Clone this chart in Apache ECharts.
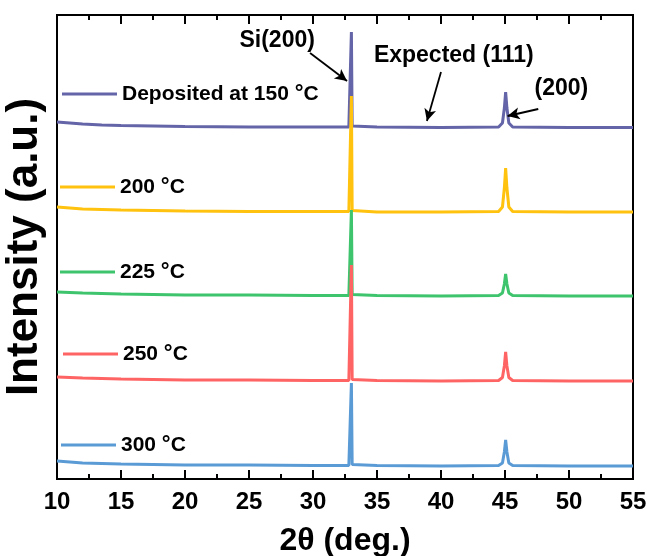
<!DOCTYPE html>
<html>
<head>
<meta charset="utf-8">
<script src="https://cdn.jsdelivr.net/npm/echarts@6/dist/echarts.min.js"></script>
<style>
  html, body { margin: 0; padding: 0; background: #fff; }
  #xrd { width: 648px; height: 556px; }
</style>
</head>
<body>
<div id="xrd"></div>
<script>
  // 2theta positions (deg.)
  var twoTheta = [10, 11, 12, 13.5, 15, 17.5, 20, 25, 30, 32.8, 32.94, 33.0, 33.06, 33.2, 35, 40, 44.5, 44.8, 44.95, 45.05, 45.15, 45.3, 45.6, 50, 55];

  // stacked intensities (a.u., offset included)
  var dep150 = [357, 356, 355, 354, 353.5, 353, 352.5, 352, 352, 352, 353, 447, 353, 352, 352, 351.5, 352, 356, 371, 387, 371, 356, 352, 351.5, 351.5];
  var ann200 = [272, 271, 270, 269.5, 269, 268.5, 268, 267.5, 267.5, 267.5, 268.5, 383, 268.5, 267.5, 267, 267, 267.5, 272, 291, 311, 291, 272, 267.5, 267, 267];
  var ann225 = [187, 186.5, 186, 185.5, 185, 184.5, 184, 184, 183.5, 183.5, 184.5, 269, 184.5, 183.5, 183.5, 183, 183.5, 186, 195, 205, 195, 186, 183.5, 183, 183];
  var ann250 = [102, 101.5, 101, 100.5, 100, 99.5, 99, 99, 98.5, 98.5, 99.5, 214, 99.5, 98.5, 98.5, 98, 98.5, 101.5, 113, 127, 113, 101.5, 98.5, 98, 98];
  var ann300 = [18, 17, 16, 15.5, 15, 14.5, 14, 14, 13.5, 13.5, 14.5, 96, 14.5, 13.5, 13.5, 13, 13.5, 16, 27, 39, 27, 16, 13.5, 13, 13];

  var seriesNames = ['Deposited at 150 °C', '200 °C', '225 °C', '250 °C', '300 °C'];
  var seriesColors = ['#6464a8', '#ffc20e', '#3ec46d', '#ff6464', '#5b9bd5'];
  var seriesData = [dep150, ann200, ann225, ann250, ann300];

  // annotations [text, x, y]
  var notes = [['Si(200)', 27.2, 438], ['Expected (111)', 41.0, 423], ['(200)', 49.4, 390]];
  // arrows [x0, y0, x1, y1]
  var arrows = [[29.77, 426, 32.66, 398], [40.0, 407, 38.9, 358], [47.6, 370, 45.2, 363]];

  var FONT = '"Liberation Sans", Arial, sans-serif';
  var chart = echarts.init(document.getElementById('xrd'));

  function pairs(ys) {
    var out = [];
    for (var i = 0; i < twoTheta.length; i++) out.push([twoTheta[i], ys[i]]);
    return out;
  }

  // legend items are placed next to their curves
  var legendPos = [[62, 96], [60, 189], [60, 274], [63, 356], [61, 447]];
  var legends = seriesNames.map(function (name, i) {
    return {
      data: [name],
      left: legendPos[i][0],
      top: legendPos[i][1] - 13,
      padding: 0,
      icon: 'rect',
      itemWidth: 55,
      itemHeight: 3,
      selectedMode: false,
      formatter: function (n) { return n.replace('°', '{deg|°}'); },
      textStyle: {
        fontFamily: FONT, fontWeight: 'bold', fontSize: 21, color: '#000',
        rich: { deg: { fontFamily: FONT, fontWeight: 'bold', fontSize: 22, color: '#000' } }
      }
    };
  });

  var series = seriesData.map(function (ys, i) {
    return {
      name: seriesNames[i],
      type: 'line',
      data: pairs(ys),
      showSymbol: false,
      symbol: 'none',
      animation: false,
      lineStyle: { width: 3, color: seriesColors[i] },
      itemStyle: { color: seriesColors[i] }
    };
  });

  series[0].markLine = {
    silent: true,
    symbol: ['none', 'arrow'],
    symbolSize: [9, 12],
    lineStyle: { color: '#000', width: 1.8, type: 'solid' },
    label: { show: false },
    data: arrows.map(function (a) {
      return [{ coord: [a[0], a[1]] }, { coord: [a[2], a[3]] }];
    })
  };
  series[0].markPoint = {
    silent: true,
    symbol: 'circle',
    symbolSize: 0,
    label: {
      show: true, position: 'inside', color: '#000',
      fontFamily: FONT, fontWeight: 'bold', fontSize: 23,
      formatter: function (p) { return p.name; }
    },
    data: notes.map(function (n) { return { name: n[0], coord: [n[1], n[2]] }; })
  };

  function xAxisCfg(pos, withLabels) {
    return {
      type: 'value', min: 10, max: 55, interval: 5, position: pos,
      z: 10,
      axisLine: { show: true, onZero: false, lineStyle: { color: '#000', width: 2 } },
      axisTick: { show: true, inside: true, length: 9, lineStyle: { color: '#000', width: 2 } },
      minorTick: { show: true, splitNumber: 2, length: 5, lineStyle: { color: '#000', width: 2 } },
      axisLabel: withLabels
        ? { show: true, margin: 11, fontFamily: FONT, fontWeight: 'bold', fontSize: 24, color: '#000' }
        : { show: false },
      splitLine: { show: false }
    };
  }

  var bottomAxis = xAxisCfg('bottom', true);
  bottomAxis.name = '2θ (deg.)';
  bottomAxis.nameLocation = 'middle';
  bottomAxis.nameGap = 46;
  bottomAxis.nameTextStyle = { fontFamily: FONT, fontWeight: 'bold', fontSize: 32, color: '#000' };

  var option = {
    backgroundColor: '#fff',
    animation: false,
    legend: legends,
    grid: {
      left: 57, right: 15, top: 15, bottom: 77,
      containLabel: false, outerBoundsMode: 'none',
      show: true, borderColor: '#000', borderWidth: 2, backgroundColor: 'transparent'
    },
    xAxis: [bottomAxis, xAxisCfg('top', false)],
    yAxis: [{
      type: 'value', min: 0, max: 464,
      name: 'Intensity (a.u.)', nameLocation: 'middle', nameGap: 10,
      nameTextStyle: { fontFamily: FONT, fontWeight: 'bold', fontSize: 44, color: '#000' },
      axisLine: { show: true, onZero: false, lineStyle: { color: '#000', width: 2 } },
      axisTick: { show: false },
      axisLabel: { show: false },
      splitLine: { show: false }
    }, {
      type: 'value', min: 0, max: 464, position: 'right',
      axisLine: { show: true, onZero: false, lineStyle: { color: '#000', width: 2 } },
      axisTick: { show: false },
      axisLabel: { show: false },
      splitLine: { show: false }
    }],
    series: series
  };

  chart.setOption(option);
</script>
</body>
</html>
